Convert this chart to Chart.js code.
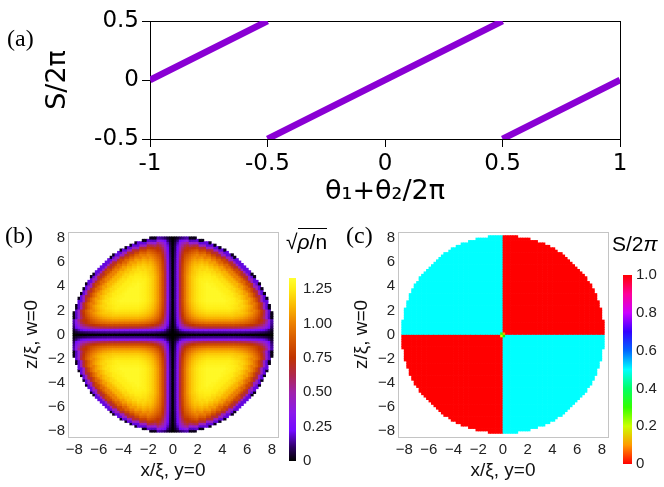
<!DOCTYPE html>
<html>
<head>
<meta charset="utf-8">
<script src="https://cdn.jsdelivr.net/npm/chart.js@4.4.1/dist/chart.umd.min.js"></script>
<style>
  body { margin: 0; background: #fff; }
  #page { position: relative; width: 664px; height: 487px; overflow: hidden; }
  canvas { position: absolute; }
  .tag { position: absolute; font-family: 'Liberation Serif', 'DejaVu Serif', serif; font-size: 24px; line-height: 1; }
  .cbtitle { position: absolute; font-family: 'Liberation Sans', Arial, sans-serif; font-size: 21px; line-height: 1; white-space: nowrap; }
  .ov { border-top: 1.5px solid #000; padding-top: 1px; }
</style>
</head>
<body>
<div id="page">
  <canvas id="phaseLine" width="664" height="222" style="left:0;top:0"></canvas>
  <canvas id="densityMap" width="284" height="267" style="left:0;top:220px"></canvas>
  <canvas id="densityBar" width="60" height="215" style="left:285px;top:262px"></canvas>
  <canvas id="phaseMap" width="284" height="267" style="left:330px;top:220px"></canvas>
  <canvas id="phaseBar" width="46" height="215" style="left:618px;top:262px"></canvas>
  <div class="tag" style="left:7px;top:26px">(a)</div>
  <div class="tag" style="left:5px;top:223px">(b)</div>
  <div class="tag" style="left:346px;top:223px">(c)</div>
  <div class="cbtitle" style="left:286px;top:231px">√<span class="ov"><i>ρ</i>/n</span></div>
  <div class="cbtitle" style="left:612px;top:233px">S/2<i>π</i></div>
</div>
<script>
// (a) S/2π against (θ1+θ2)/2π, three branches, null breaks the line
const thetaSum = [-1, -0.5, null, -0.5, 0.5, null, 0.5, 1];
const phaseS = [0, 0.5, null, -0.5, 0.5, null, -0.5, 0];
const thetaTicks = [-1, -0.5, 0, 0.5, 1];
const thetaTickLabels = ['-1', '-0.5', '0', '0.5', '1'];
const phaseTicks = [-0.5, 0, 0.5];
const phaseTickLabels = ['-0.5', '0', '0.5'];

// (b), (c) maps on the plane y=0, w=0
const mapTicks = [-8, -6, -4, -2, 0, 2, 4, 6, 8];
const mapTickLabels = ['\u22128', '\u22126', '\u22124', '\u22122', '0', '2', '4', '6', '8'];
const cellStep = 0.2;
const discRadius = 8.2;
const peakDensity = 1.3;
// fall of sqrt(rho/n) next to a nodal line, one entry per cell (0.2 ξ) away from it
const nodeProfile = [0, 0.1, 0.25, 0.5, 0.64, 0.74, 0.81, 0.86, 0.9, 0.93, 0.95, 0.97, 0.98, 0.99, 1];
// same next to the rim of the disc
const rimProfile = [0.02, 0.15, 0.35, 0.52, 0.63, 0.71, 0.77, 0.82, 0.86, 0.89, 0.92, 0.94, 0.96, 0.97, 0.98, 0.99, 1];
// S/2π per quadrant: x<0 z>0, x>0 z>0, x<0 z<0, x>0 z<0
const quadrantPhase = [0.5, 0, 0, 0.5];
// the four cells touching the vortex core
const corePhase = [0.3, 0.1, 0.2, 0.33];

// colour bars
const densityTicks = [0, 0.25, 0.5, 0.75, 1, 1.25];
const densityTickLabels = ['0', '0.25', '0.50', '0.75', '1.00', '1.25'];
const densityMax = 1.33;
const phaseBarTicks = [0, 0.2, 0.4, 0.6, 0.8, 1];
const phaseBarLabels = ['0', '0.2', '0.4', '0.6', '0.8', '1.0'];

const densityStops = [
  [0, [0, 0, 0]], [0.1, [45, 0, 100]], [0.22, [115, 10, 255]], [0.35, [140, 25, 235]],
  [0.5, [160, 35, 170]], [0.62, [175, 40, 80]], [0.75, [192, 52, 0]], [0.9, [218, 95, 0]],
  [1.0, [236, 128, 0]], [1.12, [250, 182, 0]], [1.25, [255, 236, 20]], [1.33, [255, 255, 50]]
];

function densityColor(v) {
  for (let i = 1; i < densityStops.length; i++) {
    const [v1, c1] = densityStops[i];
    const [v0, c0] = densityStops[i - 1];
    if (v <= v1) {
      const t = (v - v0) / (v1 - v0);
      return 'rgb(' + c0.map((c, j) => Math.round(c + (c1[j] - c) * t)).join(',') + ')';
    }
  }
  return 'rgb(255,255,50)';
}
function phaseColor(v) {
  return 'hsl(' + Math.round(360 * v) + ',100%,50%)';
}

function lookup(profile, d) {
  const i = Math.round(d / cellStep);
  return i < profile.length ? profile[i] : 1;
}

const nCells = Math.round(8.4 / cellStep);
const densityCells = [];
for (let i = -nCells; i <= nCells; i++) {
  for (let k = -nCells; k <= nCells; k++) {
    const x = i * cellStep, z = k * cellStep, r = Math.hypot(x, z);
    if (r > discRadius) continue;
    const v = peakDensity * lookup(nodeProfile, Math.abs(x)) * lookup(nodeProfile, Math.abs(z)) * lookup(rimProfile, discRadius - r);
    densityCells.push({ x: x, y: z, v: v });
  }
}
const phaseCells = [];
for (let i = -nCells; i < nCells; i++) {
  for (let k = -nCells; k < nCells; k++) {
    const x = (i + 0.5) * cellStep, z = (k + 0.5) * cellStep;
    if (Math.hypot(x, z) > discRadius) continue;
    const q = (z > 0 ? 0 : 2) + (x > 0 ? 1 : 0);
    const core = (i === 0 || i === -1) && (k === 0 || k === -1);
    phaseCells.push({ x: x, y: z, v: core ? corePhase[q] : quadrantPhase[q] });
  }
}

const sansA = "'DejaVu Sans', sans-serif";
const sansB = "'Liberation Sans', Arial, sans-serif";

// frame side that only draws its line
function frameAxis(position, color) {
  return {
    type: 'linear', position: position, display: true,
    grid: { display: false, drawTicks: false },
    ticks: { display: false },
    border: { display: true, color: color, width: 1 },
    afterFit: s => { if (s.isHorizontal()) s.height = 0; else s.width = 0; }
  };
}

new Chart(document.getElementById('phaseLine'), {
  type: 'line',
  data: {
    datasets: [{
      data: thetaSum.map((t, i) => ({ x: t, y: phaseS[i] })),
      borderColor: '#8a00d4',
      borderWidth: 6.5,
      pointRadius: 0,
      spanGaps: false,
      tension: 0
    }]
  },
  options: {
    responsive: false,
    animation: false,
    events: [],
    layout: { padding: { top: 21, right: 44, left: 0, bottom: 0 } },
    plugins: { legend: { display: false }, tooltip: { enabled: false } },
    scales: {
      x: {
        type: 'linear', min: -1, max: 1,
        afterBuildTicks: s => { s.ticks = thetaTicks.map(v => ({ value: v })); },
        ticks: { callback: (v, i) => thetaTickLabels[i], font: { family: sansA, size: 23 }, color: '#000', padding: 3, maxRotation: 0 },
        grid: { drawOnChartArea: false, drawTicks: true, tickLength: 8, color: '#000' },
        border: { color: '#000' },
        title: { display: true, text: 'θ\u2081+θ\u2082/2π', font: { family: sansA, size: 27 }, color: '#000', padding: { top: 0, bottom: 14 } },
        afterFit: s => { s.height = 83; }
      },
      y: {
        type: 'linear', min: -0.5, max: 0.5,
        afterBuildTicks: s => { s.ticks = phaseTicks.map(v => ({ value: v })); },
        ticks: { callback: (v, i) => phaseTickLabels[i], font: { family: sansA, size: 23 }, color: '#000', padding: 3 },
        grid: { drawOnChartArea: false, drawTicks: true, tickLength: 8, color: '#000' },
        border: { color: '#000' },
        title: { display: true, text: 'S/2π', font: { family: sansA, size: 27 }, color: '#000', padding: { top: 42, bottom: 0 } },
        afterFit: s => { s.width = 150; }
      },
      x2: frameAxis('top', '#000'),
      y2: frameAxis('right', '#000')
    }
  }
});

function mapChart(id, cells, colorOf) {
  return new Chart(document.getElementById(id), {
    type: 'scatter',
    data: {
      datasets: [{
        data: cells,
        pointStyle: 'rect',
        pointBorderWidth: 0,
        pointBackgroundColor: c => (c.raw ? colorOf(c.raw.v) : '#000'),
        pointRadius: c => {
          const s = c.chart.scales.x;
          const w = Math.abs(s.getPixelForValue(cellStep) - s.getPixelForValue(0));
          return Number.isFinite(w) ? w * 0.9 : 2;
        },
        pointHoverRadius: 0
      }]
    },
    options: {
      responsive: false,
      animation: false,
      events: [],
      layout: { padding: { top: 9, right: 6, left: 0, bottom: 0 } },
      plugins: { legend: { display: false }, tooltip: { enabled: false } },
      scales: {
        x: {
          type: 'linear', min: -8.5, max: 8.5,
          afterBuildTicks: s => { s.ticks = mapTicks.map(v => ({ value: v })); },
          ticks: { callback: (v, i) => mapTickLabels[i], font: { family: sansB, size: 15 }, color: '#222', padding: 4, maxRotation: 0 },
          grid: { display: false, drawTicks: false },
          border: { color: '#c4c4c4' },
          title: { display: true, text: 'x/ξ, y=0', font: { family: sansB, size: 19 }, color: '#111', padding: { top: 0, bottom: 5 } },
          afterFit: s => { s.height = 50; }
        },
        y: {
          type: 'linear', min: -8.5, max: 8.5,
          afterBuildTicks: s => { s.ticks = mapTicks.map(v => ({ value: v })); },
          ticks: { callback: (v, i) => mapTickLabels[i], font: { family: sansB, size: 15 }, color: '#222', padding: 3 },
          grid: { display: false, drawTicks: false },
          border: { color: '#c4c4c4' },
          title: { display: true, text: 'z/ξ, w=0', font: { family: sansB, size: 19 }, color: '#111', padding: { top: 20, bottom: 0 } },
          afterFit: s => { s.width = 68; }
        },
        x2: frameAxis('top', '#c4c4c4'),
        y2: frameAxis('right', '#c4c4c4')
      }
    }
  });
}

mapChart('densityMap', densityCells, densityColor);
mapChart('phaseMap', phaseCells, phaseColor);

function barChart(id, max, ticks, labels, stops, pad, axisWidth, labelPad) {
  return new Chart(document.getElementById(id), {
    type: 'bar',
    data: {
      labels: ['bar'],
      datasets: [{
        data: [[0, max]],
        barPercentage: 1,
        categoryPercentage: 1,
        borderWidth: 0,
        backgroundColor: c => {
          const a = c.chart.chartArea;
          if (!a || !Number.isFinite(a.top) || !Number.isFinite(a.bottom)) return '#000';
          const g = c.chart.ctx.createLinearGradient(0, a.bottom, 0, a.top);
          stops.forEach(([v, col]) => g.addColorStop(v / max, col));
          return g;
        }
      }]
    },
    options: {
      responsive: false,
      animation: false,
      events: [],
      layout: { padding: pad },
      plugins: { legend: { display: false }, tooltip: { enabled: false } },
      scales: {
        x: { display: false },
        y: {
          position: 'right', min: 0, max: max,
          afterBuildTicks: s => { s.ticks = ticks.map(v => ({ value: v })); },
          ticks: { callback: (v, i) => labels[i], font: { family: sansB, size: 15 }, color: '#222', padding: labelPad },
          grid: { display: false, drawTicks: false },
          border: { display: false },
          afterFit: s => { s.width = axisWidth; }
        }
      }
    }
  });
}

barChart('densityBar', densityMax, densityTicks, densityTickLabels,
  densityStops.map(([v, c]) => [v, 'rgb(' + c.join(',') + ')']),
  { left: 4, top: 6, bottom: 8, right: 0 }, 49, 7);
barChart('phaseBar', 1, phaseBarTicks, phaseBarLabels,
  [0, 0.1, 0.2, 0.3, 0.4, 0.5, 0.6, 0.7, 0.8, 0.9, 1].map(v => [v, phaseColor(v)]),
  { left: 5, top: 7, bottom: 11, right: 0 }, 32, 4);
</script>
</body>
</html>
